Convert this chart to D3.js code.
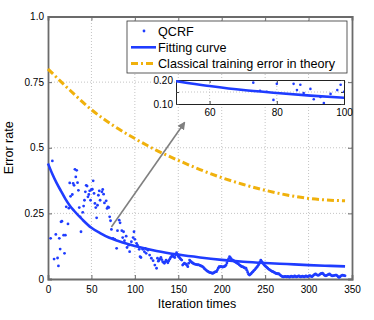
<!DOCTYPE html>
<html>
<head>
<meta charset="utf-8">
<script src="https://cdn.jsdelivr.net/npm/d3@7"></script>
<style>
  html, body { margin: 0; padding: 0; background: #fff; }
  text { font-family: "Liberation Sans", Arial, sans-serif; }
</style>
</head>
<body>
<div id="chart"></div>
<script>
// axis ticks
const xTicks = [0, 50, 100, 150, 200, 250, 300, 350];
const yTicks = [0, 0.25, 0.5, 0.75, 1];
const yTickLabels = ["0", "0.25", "0.5", "0.75", "1.0"];
const insetXTicks = [60, 80, 100];
const insetYTicks = [0.1, 0.15, 0.2];
const insetYTickLabels = ["0.10", "", "0.20"];

// QCRF error per iteration
const qcrfIter = [3,5,7,9,11,12,13,14,15,16,18,19,20,21,23,24,25,26,28,29,30,31,32,33,34,35,36,37,38,40,
  41,42,43,44,45,46,47,48,49,50,51,52,53,54,55,56,57,58,59,60,62,63,64,65,67,68,69,70,71,72,
  73,75,77,79,80,82,83,85,86,87,88,90,91,93,94,96,98,99,100,102,103,105,106,107,109,111,112,113,115,117,
  119,121,123,125,
  126,127,128,129,130,131,132,133,134,135,136,137,138,139,140,141,142,143,144,145,
  146,147,148,149,150,151,152,153,154,155,156,157,158,159,160,161,162,163,164,165,
  166,167,168,169,170,171,172,173,174,175,176,177,178,179,180,181,182,183,184,185,
  186,187,188,189,190,191,192,193,194,195,196,197,198,199,200,201,202,203,204,205,
  206,207,208,209,210,211,212,213,214,215,216,217,218,219,220,221,222,223,224,225,
  226,227,228,229,230,231,232,233,234,235,236,237,238,239,240,241,242,243,244,245,
  246,247,248,249,250,251,252,253,254,255,256,257,258,259,260,261,262,263,264,265,
  266,267,268,269,270,271,272,273,274,275,276,277,278,279,280,281,282,283,284,285,
  286,287,288,289,290,291,292,293,294,295,296,297,298,299,300,301,302,303,304,305,
  306,307,308,309,310,311,312,313,314,315,316,317,318,319,320,321,322,323,324,325,
  326,327,328,329,330,331,332,333,334,335,336,337,338,339,340,341,342];
const qcrfErr = [0.155,0.45,0.076,0.17,0.08,0.05,0.155,0.114,0.218,0.22,0.167,0.098,0.167,0.275,0.21,0.27,0.366,0.315,0.322,0.364,0.357,0.418,0.389,0.414,0.367,0.338,0.272,0.237,0.18,0.254,
  0.278,0.30,0.332,0.357,0.354,0.313,0.322,0.336,0.30,0.341,0.342,0.374,0.326,0.288,0.272,0.233,0.281,0.319,0.336,0.30,0.332,0.341,0.323,0.29,0.298,0.269,0.275,0.272,0.237,0.222,
  0.189,0.155,0.151,0.117,0.184,0.224,0.214,0.184,0.158,0.18,0.146,0.163,0.12,0.129,0.104,0.142,0.158,0.18,0.151,0.136,0.129,0.113,0.085,0.082,0.113,0.104,0.117,0.098,0.11,0.091,
  0.079,0.07,0.053,0.041,
  0.079,0.068,0.072,0.077,0.082,0.074,0.066,0.063,0.06,0.066,0.072,0.067,0.062,0.069,0.075,0.081,0.085,0.088,0.087,0.084,
  0.082,0.092,0.1,0.094,0.087,0.083,0.079,0.075,0.072,0.053,0.057,0.06,0.058,0.057,0.052,0.047,0.06,0.072,0.068,0.065,
  0.062,0.06,0.058,0.057,0.056,0.055,0.054,0.055,0.053,0.052,0.05,0.049,0.047,0.044,0.04,0.037,0.034,0.031,0.029,0.027,
  0.025,0.024,0.023,0.022,0.022,0.024,0.026,0.028,0.028,0.034,0.041,0.047,0.046,0.048,0.047,0.045,0.047,0.047,0.05,0.053,
  0.061,0.07,0.078,0.085,0.081,0.077,0.072,0.072,0.069,0.066,0.064,0.062,0.06,0.058,0.055,0.052,0.05,0.047,0.047,0.045,
  0.043,0.041,0.041,0.033,0.025,0.018,0.015,0.018,0.021,0.025,0.028,0.032,0.035,0.039,0.043,0.047,0.052,0.058,0.065,0.072,
  0.067,0.062,0.057,0.053,0.05,0.047,0.044,0.041,0.038,0.036,0.033,0.031,0.029,0.028,0.026,0.024,0.022,0.021,0.02,0.02,
  0.019,0.016,0.013,0.011,0.009,0.008,0.009,0.01,0.009,0.008,0.01,0.009,0.007,0.009,0.011,0.01,0.008,0.009,0.012,0.01,
  0.008,0.009,0.011,0.012,0.009,0.008,0.01,0.011,0.009,0.008,0.01,0.012,0.01,0.009,0.011,0.013,0.012,0.01,0.009,0.012,
  0.015,0.018,0.019,0.017,0.015,0.014,0.015,0.018,0.02,0.021,0.022,0.019,0.015,0.013,0.012,0.014,0.016,0.018,0.019,0.017,
  0.014,0.012,0.012,0.013,0.014,0.015,0.015,0.012,0.009,0.006,0.008,0.011,0.013,0.015,0.014,0.013,0.012];

// fitting curve
const fitIter = [0,5,10,15,20,25,30,40,50,60,70,80,90,100,125,150,175,200,225,250,275,300,325,342];
const fitErr = [0.44,0.40,0.365,0.335,0.305,0.28,0.26,0.225,0.195,0.175,0.158,0.146,0.135,0.126,0.107,0.093,0.082,0.073,0.066,0.061,0.057,0.053,0.05,0.048];

// classical training error in theory
const theoryIter = [0,25,50,75,100,125,150,175,200,225,250,275,300,325,342];
const theoryErr = [0.80,0.72,0.645,0.585,0.535,0.49,0.452,0.417,0.386,0.36,0.338,0.32,0.307,0.30,0.298];

const legendLabels = ["QCRF", "Fitting curve", "Classical training error in theory"];
const arrowFrom = [73, 0.198];
const arrowTo = [157, 0.595];

const blue = "#1f3cff";
const orange = "#f0b10c";
const gridColor = "#c4c4c4";
const axisColor = "#6b6b6b";

function renderChart() {
    const width = 374, height = 320;
    const svg = d3.select("#chart").append("svg")
        .attr("width", width)
        .attr("height", height);

    const x = d3.scaleLinear().domain([0, 350]).range([48, 352]);
    const y = d3.scaleLinear().domain([0, 1]).range([279, 16.5]);

    const fit = fitIter.map((d, i) => [d, fitErr[i]]);
    const theory = theoryIter.map((d, i) => [d, theoryErr[i]]);
    const qcrf = qcrfIter.map((d, i) => [d, qcrfErr[i]]);

    // grid
    const grid = svg.append("g").attr("stroke", gridColor).attr("stroke-dasharray", "1,2");
    grid.selectAll(".gx").data(xTicks.slice(1, -1)).join("line")
        .attr("x1", d => x(d)).attr("x2", d => x(d))
        .attr("y1", y(0)).attr("y2", y(1));
    grid.selectAll(".gy").data(yTicks.slice(1, -1)).join("line")
        .attr("x1", x(0)).attr("x2", x(350))
        .attr("y1", d => y(d)).attr("y2", d => y(d));

    // axes (inward ticks, box)
    const ax = svg.append("g").style("font-size", "12.5px");
    ax.append("g").attr("transform", `translate(0,${y(0)})`)
        .call(d3.axisBottom(x).tickValues(xTicks).tickSize(-4).tickPadding(7));
    ax.append("g").attr("transform", `translate(0,${y(1)})`)
        .call(d3.axisTop(x).tickValues(xTicks).tickSize(-4).tickFormat(""));
    ax.append("g").attr("transform", `translate(${x(0)},0)`)
        .call(d3.axisLeft(y).tickValues(yTicks).tickSize(-4).tickPadding(4)
            .tickFormat((d, i) => yTickLabels[i]));
    ax.append("g").attr("transform", `translate(${x(350)},0)`)
        .call(d3.axisRight(y).tickValues(yTicks).tickSize(-4).tickFormat(""));
    ax.selectAll(".domain").attr("stroke", axisColor).attr("stroke-width", 1.8);
    ax.selectAll(".tick line").attr("stroke", axisColor);
    ax.selectAll(".tick text").attr("fill", "#000");

    // curves
    const line = d3.line().x(d => x(d[0])).y(d => y(d[1])).curve(d3.curveMonotoneX);
    svg.append("path").datum(theory)
        .attr("d", line).attr("fill", "none")
        .attr("stroke", orange).attr("stroke-width", 3)
        .attr("stroke-dasharray", "7,3,2,3");
    svg.append("g").attr("fill", blue)
        .selectAll("circle").data(qcrf).join("circle")
        .attr("cx", d => x(d[0])).attr("cy", d => y(d[1])).attr("r", 1.4);
    svg.append("path").datum(fit)
        .attr("d", line).attr("fill", "none")
        .attr("stroke", blue).attr("stroke-width", 2.6);

    // arrow
    svg.append("defs").append("marker")
        .attr("id", "arrowhead").attr("viewBox", "0 0 10 10")
        .attr("refX", 8).attr("refY", 5)
        .attr("markerWidth", 5).attr("markerHeight", 5)
        .attr("orient", "auto")
        .append("path").attr("d", "M0,0 L10,5 L0,10 z").attr("fill", "#808080");
    svg.append("line")
        .attr("x1", x(arrowFrom[0])).attr("y1", y(arrowFrom[1]))
        .attr("x2", x(arrowTo[0])).attr("y2", y(arrowTo[1]))
        .attr("stroke", "#808080").attr("stroke-width", 1.6)
        .attr("marker-end", "url(#arrowhead)");

    // legend
    const lg = svg.append("g").attr("transform", "translate(127,21)");
    lg.append("rect").attr("width", 220).attr("height", 52)
        .attr("fill", "#fff").attr("stroke", "#333").attr("stroke-width", 0.8);
    const rows = lg.selectAll("g").data(legendLabels).join("g")
        .attr("transform", (d, i) => `translate(0,${10 + i * 16.3})`);
    rows.append("text").attr("x", 31).attr("y", 4.5)
        .style("font-size", "12.6px").text(d => d);
    rows.filter((d, i) => i === 0).append("circle")
        .attr("cx", 17).attr("cy", 0).attr("r", 1.4).attr("fill", blue);
    rows.filter((d, i) => i === 1).append("line")
        .attr("x1", 4).attr("x2", 29).attr("stroke", blue).attr("stroke-width", 2.6);
    rows.filter((d, i) => i === 2).append("line")
        .attr("x1", 4).attr("x2", 29).attr("stroke", orange).attr("stroke-width", 3)
        .attr("stroke-dasharray", "7,3,2,3");

    // inset
    const ix = d3.scaleLinear().domain([50, 100]).range([176, 344]);
    const iy = d3.scaleLinear().domain([0.1, 0.2]).range([104, 80]);
    const inset = svg.append("g");
    inset.append("rect").attr("x", 176).attr("y", 80).attr("width", 168).attr("height", 24)
        .attr("fill", "#fff");
    inset.append("clipPath").attr("id", "insetClip")
        .append("rect").attr("x", 176).attr("y", 80).attr("width", 168).attr("height", 24);
    const ig = inset.append("g").attr("stroke", gridColor).attr("stroke-dasharray", "1,2");
    ig.selectAll("line.v").data(insetXTicks.slice(0, -1)).join("line")
        .attr("x1", d => ix(d)).attr("x2", d => ix(d)).attr("y1", 80).attr("y2", 104);
    ig.selectAll("line.h").data([insetYTicks[1]]).join("line")
        .attr("x1", 176).attr("x2", 344).attr("y1", d => iy(d)).attr("y2", d => iy(d));
    const iax = inset.append("g").style("font-size", "12.5px");
    iax.append("g").attr("transform", "translate(0,104)")
        .call(d3.axisBottom(ix).tickValues(insetXTicks).tickSize(-3).tickPadding(5));
    iax.append("g").attr("transform", "translate(0,80)")
        .call(d3.axisTop(ix).tickValues(insetXTicks).tickSize(-3).tickFormat(""));
    iax.append("g").attr("transform", "translate(176,0)")
        .call(d3.axisLeft(iy).tickValues(insetYTicks).tickSize(-3).tickPadding(3)
            .tickFormat((d, i) => insetYTickLabels[i]));
    iax.append("g").attr("transform", "translate(344,0)")
        .call(d3.axisRight(iy).tickValues(insetYTicks).tickSize(-3).tickFormat(""));
    iax.selectAll(".domain").attr("stroke", "#222").attr("stroke-width", 1);
    iax.selectAll(".tick line").attr("stroke", "#444");
    iax.selectAll(".tick text").attr("fill", "#000");
    const ic = inset.append("g").attr("clip-path", "url(#insetClip)");
    const iline = d3.line().x(d => ix(d[0])).y(d => iy(d[1])).curve(d3.curveMonotoneX);
    ic.append("g").attr("fill", blue)
        .selectAll("circle").data(qcrf.filter(d => d[0] >= 50 && d[0] <= 100)).join("circle")
        .attr("cx", d => ix(d[0])).attr("cy", d => iy(d[1])).attr("r", 1.3);
    ic.append("path").datum(fit)
        .attr("d", iline).attr("fill", "none")
        .attr("stroke", blue).attr("stroke-width", 2.6);

    // axis titles
    svg.append("text").attr("x", 197).attr("y", 308)
        .attr("text-anchor", "middle").style("font-size", "12.5px").text("Iteration times");
    svg.append("text").attr("transform", `translate(13,${(y(0) + y(1)) / 2}) rotate(-90)`)
        .attr("text-anchor", "middle").style("font-size", "12.5px").text("Error rate");
}

document.addEventListener("DOMContentLoaded", function () {
    renderChart();
});
</script>
</body>
</html>
